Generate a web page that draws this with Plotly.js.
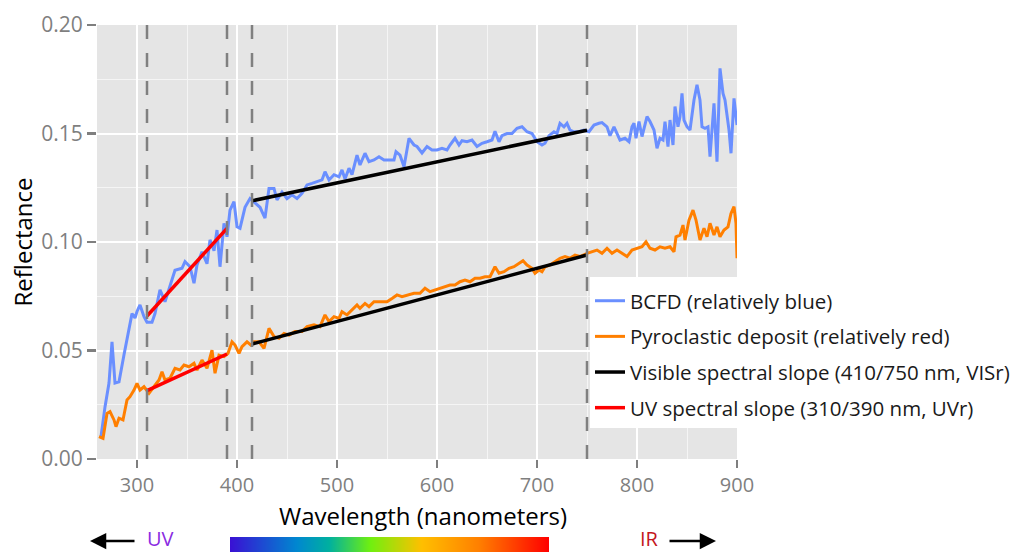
<!DOCTYPE html>
<html>
<head>
<meta charset="utf-8">
<script src="https://cdn.plot.ly/plotly-3.0.1.min.js"></script>
<style>html,body{margin:0;padding:0;background:#fff;}#chart{width:1035px;height:554px;}</style>
</head>
<body>
<div id="chart"></div>
<script>
// Wavelength (nm) and reflectance for the BCFD spectrum (blue)
const bcfdWavelength = [264,268,272,275,278,282,287,292,295,298,300,303,307,310,315,318,323,328,333,338,345,348,353,357,360,365,370,373,377,380,383,387,390,393,397,400,403,408,413,418,423,428,432,437,440,445,450,455,460,465,470,475,480,485,488,492,497,502,505,508,512,515,520,523,528,532,537,542,547,552,557,559,563,567,572,577,580,585,590,595,600,605,610,613,618,622,625,630,635,640,645,650,655,658,662,665,670,675,680,685,690,695,700,705,708,712,717,720,723,727,730,733,737,742,747,752,757,762,765,770,773,777,780,783,788,792,795,797,799,802,805,810,813,817,820,823,826,828,831,833,836,838,841,843,845,847,850,853,857,860,863,865,868,871,873,875,877,880,883,886,888,892,894,897,900];
const bcfdReflectance = [0.0103,0.024,0.035,0.054,0.035,0.0356,0.048,0.060,0.067,0.065,0.068,0.071,0.0656,0.063,0.063,0.067,0.078,0.0725,0.0794,0.087,0.0879,0.091,0.0886,0.081,0.0894,0.0955,0.090,0.101,0.096,0.1055,0.0886,0.1086,0.1024,0.1147,0.1186,0.107,0.1063,0.116,0.120,0.118,0.116,0.111,0.1247,0.1247,0.1194,0.123,0.120,0.1217,0.120,0.1224,0.1263,0.127,0.1278,0.1286,0.1324,0.1286,0.131,0.130,0.1332,0.129,0.134,0.131,0.140,0.1355,0.1409,0.137,0.1378,0.1393,0.1378,0.1378,0.1378,0.1416,0.140,0.1347,0.1478,0.1447,0.144,0.141,0.144,0.1424,0.1424,0.1432,0.1424,0.1447,0.1478,0.1447,0.1467,0.1462,0.147,0.144,0.1455,0.1462,0.147,0.151,0.1462,0.149,0.150,0.150,0.1524,0.1531,0.1508,0.150,0.1462,0.1447,0.1455,0.149,0.1508,0.150,0.1547,0.1531,0.1547,0.1516,0.1508,0.1508,0.1516,0.1508,0.1539,0.1547,0.155,0.1531,0.149,0.1531,0.150,0.147,0.1478,0.1462,0.1531,0.1547,0.1478,0.1555,0.1486,0.1578,0.1555,0.1516,0.1432,0.1478,0.147,0.1555,0.144,0.1562,0.1447,0.1624,0.1531,0.1578,0.1685,0.1562,0.1531,0.1516,0.1654,0.1724,0.1654,0.1531,0.1524,0.1531,0.1393,0.150,0.1639,0.137,0.180,0.1685,0.1654,0.1516,0.1409,0.1662,0.1539];

// Wavelength (nm) and reflectance for the pyroclastic deposit spectrum (orange)
const pyroWavelength = [262,266,270,273,277,279,282,286,290,293,297,300,303,307,312,317,322,325,328,333,338,343,347,352,357,360,365,370,375,378,382,387,391,395,398,402,405,410,414,417,422,427,432,437,442,447,452,458,465,470,477,483,488,492,497,502,505,510,515,520,523,528,532,537,543,550,555,560,565,570,577,583,588,593,598,603,608,613,618,623,628,633,638,643,648,653,658,662,667,672,677,682,686,690,695,698,702,705,708,713,718,723,728,733,738,743,750,755,760,765,770,775,780,785,790,795,800,805,809,813,818,823,828,833,837,839,843,846,848,852,856,859,863,867,870,873,877,880,883,887,891,894,897,899,900];
const pyroReflectance = [0.0103,0.0095,0.021,0.0218,0.018,0.0149,0.0188,0.018,0.0272,0.0287,0.0318,0.0349,0.0318,0.0333,0.0303,0.0333,0.0364,0.0402,0.0364,0.0372,0.0418,0.041,0.0433,0.0425,0.0441,0.041,0.0456,0.0418,0.0502,0.0395,0.0479,0.0472,0.0487,0.054,0.0525,0.0487,0.0518,0.054,0.0525,0.054,0.054,0.051,0.0602,0.0564,0.0556,0.0579,0.0571,0.0587,0.0587,0.061,0.0618,0.061,0.0664,0.0633,0.0656,0.0648,0.0679,0.0664,0.0687,0.071,0.0694,0.0717,0.0702,0.0725,0.0725,0.0725,0.074,0.0756,0.0748,0.0756,0.0764,0.0764,0.0787,0.0771,0.0779,0.0787,0.0794,0.0802,0.0802,0.0817,0.0825,0.0817,0.0833,0.0833,0.084,0.084,0.0886,0.0856,0.0863,0.0879,0.0886,0.0902,0.0914,0.0894,0.0879,0.0856,0.0871,0.0863,0.0886,0.0894,0.091,0.0925,0.0933,0.0925,0.094,0.0933,0.0948,0.0955,0.0963,0.0948,0.0971,0.0948,0.0963,0.0948,0.0933,0.0963,0.0971,0.0978,0.1001,0.0971,0.0963,0.0978,0.0971,0.0978,0.0955,0.1024,0.1032,0.1078,0.1009,0.1101,0.1147,0.1101,0.1009,0.1063,0.1024,0.1086,0.1032,0.107,0.1024,0.1055,0.107,0.1132,0.1163,0.1086,0.0925];

// Spectral slope segments (endpoints)
const visSlopeWavelength = [415, 750];
const visSlopeBcfd = [0.119, 0.1515];
const visSlopePyro = [0.053, 0.094];
const uvSlopeWavelength = [310, 390];
const uvSlopeBcfd = [0.0659, 0.1063];
const uvSlopePyro = [0.0315, 0.0484];

// Vertical reference wavelengths (dashed)
const refWavelengths = [310, 390, 415, 750];

// Legend labels and axis titles
const seriesNames = [
  "BCFD (relatively blue)",
  "Pyroclastic deposit (relatively red)",
  "Visible spectral slope (410/750 nm, VISr)",
  "UV spectral slope (310/390 nm, UVr)"
];
const xTitle = "Wavelength (nanometers)";
const yTitle = "Reflectance";

const FONT = "'Open Sans', 'DejaVu Sans', sans-serif";

const traces = [
  {x: bcfdWavelength, y: bcfdReflectance, type: 'scatter', mode: 'lines', name: seriesNames[0],
   legendgroup: 'g1', line: {color: '#6A8FFF', width: 3}},
  {x: pyroWavelength, y: pyroReflectance, type: 'scatter', mode: 'lines', name: seriesNames[1],
   legendgroup: 'g2', line: {color: '#FF7F00', width: 3}},
  {x: visSlopeWavelength.concat([null], visSlopeWavelength),
   y: visSlopeBcfd.concat([null], visSlopePyro),
   type: 'scatter', mode: 'lines', name: seriesNames[2], connectgaps: false, legendgroup: 'g3',
   line: {color: '#000000', width: 3.5}},
  {x: uvSlopeWavelength.concat([null], uvSlopeWavelength),
   y: uvSlopeBcfd.concat([null], uvSlopePyro),
   type: 'scatter', mode: 'lines', name: seriesNames[3], connectgaps: false, legendgroup: 'g4',
   line: {color: '#FF0000', width: 3.5}}
];

const shapes = refWavelengths.map(w => ({
  type: 'line', xref: 'x', yref: 'paper', x0: w, x1: w, y0: 0, y1: 1,
  line: {color: '#808080', width: 2.5, dash: '14px,14px'}, layer: 'above'
}));

// Spectrum gradient bar image
const cv = document.createElement('canvas');
cv.width = 320; cv.height = 16;
const ctx = cv.getContext('2d');
const g = ctx.createLinearGradient(0, 0, 320, 0);
g.addColorStop(0.0, '#3A10D4');
g.addColorStop(0.21, '#0088D0');
g.addColorStop(0.31, '#00B0A0');
g.addColorStop(0.44, '#70F010');
g.addColorStop(0.60, '#FFC000');
g.addColorStop(0.78, '#FF8000');
g.addColorStop(1.0, '#FF0000');
ctx.fillStyle = g;
ctx.fillRect(0, 0, 320, 16);

const W = 640, H = 434; // plot area in px
const px = v => (v - 97) / W;
const py = v => (459 - v) / H;

const layout = {
  width: 1035, height: 554,
  margin: {l: 97, r: 298, t: 25, b: 95, pad: 0},
  paper_bgcolor: '#FFFFFF',
  plot_bgcolor: '#E5E5E5',
  font: {family: FONT, color: '#1a1a1a'},
  showlegend: true,
  legend: {
    x: px(590), xanchor: 'left', y: py(277), yanchor: 'top',
    bgcolor: '#FFFFFF', borderwidth: 0,
    font: {family: FONT, size: 20.5, color: '#1a1a1a'},
    title: {text: ' ', font: {family: FONT, size: 3}},
    tracegroupgap: 6
  },
  xaxis: {
    range: [260, 900], dtick: 100, tick0: 0,
    showgrid: true, gridcolor: '#FFFFFF', gridwidth: 2,
    minor: {dtick: 50, showgrid: true, gridcolor: '#F5F5F5', gridwidth: 1},
    ticks: 'outside', ticklen: 8, tickwidth: 2.5, tickcolor: '#7F7F7F',
    tickfont: {family: FONT, size: 20, color: '#7F7F7F'},
    zeroline: false, showline: false, automargin: false
  },
  yaxis: {
    range: [0, 0.2], dtick: 0.05, tick0: 0, tickformat: '.2f',
    showgrid: true, gridcolor: '#FFFFFF', gridwidth: 2,
    minor: {dtick: 0.025, showgrid: true, gridcolor: '#F5F5F5', gridwidth: 1},
    ticks: 'outside', ticklen: 9, tickwidth: 2.5, tickcolor: '#7F7F7F',
    tickfont: {family: FONT, size: 21, color: '#7F7F7F'},
    zeroline: false, showline: false, automargin: false,
    title: {text: yTitle, font: {family: FONT, size: 24, color: '#000000'}}
  },
  shapes: shapes,
  images: [{
    source: cv.toDataURL(), xref: 'paper', yref: 'paper',
    x: px(230), y: py(537), sizex: 319 / W, sizey: 15 / H,
    sizing: 'stretch', xanchor: 'left', yanchor: 'top', layer: 'above'
  }],
  annotations: [
    {xref: 'paper', yref: 'paper', x: px(423), y: py(515), text: xTitle, showarrow: false,
     font: {family: FONT, size: 24, color: '#000000'}, xanchor: 'center', yanchor: 'middle', borderpad: 0},
    {xref: 'paper', yref: 'paper', x: px(160), y: py(553), text: 'UV', showarrow: false,
     font: {family: FONT, size: 20, color: '#8A2BE2'}, xanchor: 'center', yanchor: 'bottom', borderpad: 0},
    {xref: 'paper', yref: 'paper', x: px(90), y: py(541), text: '', showarrow: true,
     ax: 46, ay: 0, arrowhead: 2, arrowsize: 1.3, arrowwidth: 2.5, arrowcolor: '#000000'},
    {xref: 'paper', yref: 'paper', x: px(649), y: py(553), text: 'IR', showarrow: false,
     font: {family: FONT, size: 20, color: '#C4161C'}, xanchor: 'center', yanchor: 'bottom', borderpad: 0},
    {xref: 'paper', yref: 'paper', x: px(716), y: py(541), text: '', showarrow: true,
     ax: -48, ay: 0, arrowhead: 2, arrowsize: 1.3, arrowwidth: 2.5, arrowcolor: '#000000'}
  ]
};

Plotly.newPlot('chart', traces, layout, {displayModeBar: false, staticPlot: true});
</script>
</body>
</html>
